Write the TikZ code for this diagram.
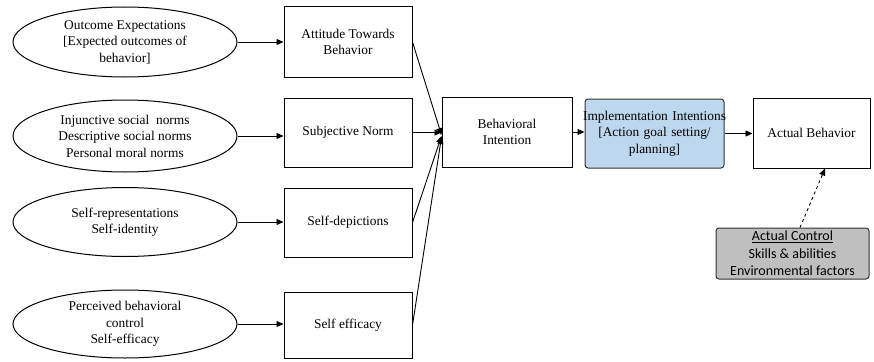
\documentclass[tikz,border=0pt]{standalone}
\usepackage{fontspec}
\setmainfont{Liberation Serif}
\newfontfamily\calibrifont{Carlito}
\usetikzlibrary{arrows.meta}
\usetikzlibrary{shapes.geometric}

\definecolor{implblue}{HTML}{BDD7EE}
\definecolor{controlgray}{HTML}{BFBFBF}

\tikzset{
  factor/.style={draw, ellipse, line width=1pt, inner sep=0pt, minimum width=224pt, align=center,
    font=\fontsize{13.4}{16.5}\selectfont},
  construct/.style={draw, rectangle, line width=1pt, inner sep=0pt, align=center,
    font=\fontsize{13.4}{16.5}\selectfont},
}

\begin{document}
\begin{tikzpicture}[x=1pt,y=-1pt,line width=0.9pt,>={Triangle[length=7pt,width=6pt]}]
    \useasboundingbox (0,0) rectangle (874,361);

    \node[factor, minimum height=70pt] (outcome) at (125,42) {Outcome Expectations\\{[}Expected outcomes of\\behavior]};
    \node[factor, minimum height=72pt] (norms) at (125,136) {Injunctive social~ norms\\Descriptive social norms\\Personal moral norms};
    \node[factor, minimum height=69pt] (selfrep) at (125,222) {Self-representations\\Self-identity};
    \node[factor, minimum height=68pt] (pbc) at (125,324) {Perceived behavioral\\control\\Self-efficacy};

    \node[construct, minimum width=128pt, minimum height=70pt] (attitude) at (348,42) {Attitude Towards\\Behavior};
    \node[construct, minimum width=128pt, minimum height=69pt] (subjnorm) at (348,132.5) {Subjective Norm};
    \node[construct, minimum width=128pt, minimum height=69pt] (depictions) at (348,222.5) {Self-depictions};
    \node[construct, minimum width=128pt, minimum height=66pt] (efficacy) at (348,325) {Self efficacy};

    \node[construct, minimum width=130pt, minimum height=70pt] (intention) at (507,132) {Behavioral\\Intention};
    \node[construct, draw=black!80, fill=implblue, rounded corners=3pt, text width=139pt, minimum height=69pt] (implementation) at (654.5,133.5)
      {\makebox[\linewidth]{Implementation Intentions}\\{[}Action goal setting/\\planning]};
    \node[construct, minimum width=117pt, minimum height=70pt] (behavior) at (811.5,133) {Actual Behavior};
    \node[construct, draw=black!80, fill=controlgray, rounded corners=3pt, minimum width=153pt, minimum height=51pt,
      font=\calibrifont\fontsize{14}{17.5}\selectfont] (control) at (792.5,253.5)
      {\underline{Actual Control}\\Skills \& abilities\\Environmental factors};

    \draw[->] (outcome.east) -- (outcome.east -| attitude.west);
    \draw[->] (norms.east) -- (norms.east -| subjnorm.west);
    \draw[->] (selfrep.east) -- (selfrep.east -| depictions.west);
    \draw[->] (pbc.east) -- (pbc.east -| efficacy.west);

    \draw[->] (attitude.east) -- ([yshift=-3pt]intention.west);
    \draw[->] (subjnorm.east) -- (subjnorm.east -| intention.west);
    \draw[->] (depictions.east) -- ([yshift=-4pt]intention.west);
    \draw[->] (efficacy.east) -- ([yshift=-5pt]intention.west);

    \draw[->] (intention.east) -- (intention.east -| implementation.west);
    \draw[->] (implementation.east) -- (implementation.east -| behavior.west);
    \draw[->, dashed] ([xshift=7.5pt]control.north) -- ([xshift=13.5pt]behavior.south);
\end{tikzpicture}
\end{document}
